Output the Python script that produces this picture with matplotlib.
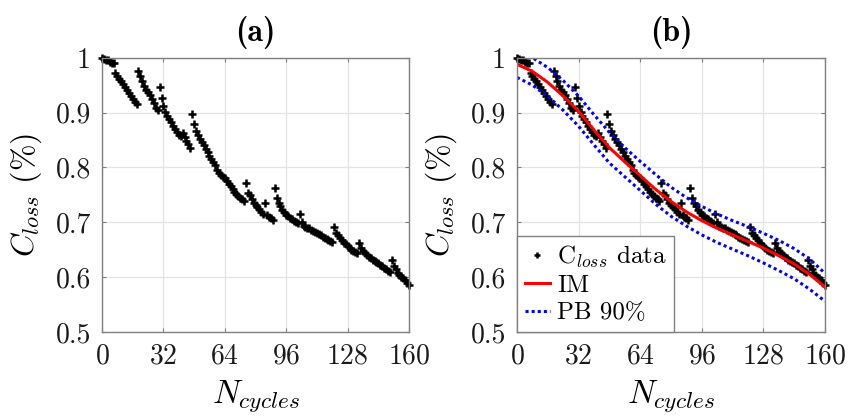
import matplotlib
matplotlib.use('Agg')
import matplotlib.pyplot as plt
import numpy as np

# Capacity loss data, one point per cycle (0..160)
cycles = list(range(161))
c_loss = [
    1.000, 0.998, 0.996, 0.995, 0.993, 0.991, 0.990, 0.972, 0.967, 0.962,
    0.957, 0.952, 0.946, 0.941, 0.936, 0.930, 0.925, 0.920, 0.916, 0.975,
    0.966, 0.957, 0.949, 0.942, 0.937, 0.932, 0.925, 0.917, 0.909, 0.905,
    0.947, 0.926, 0.912, 0.901, 0.894, 0.888, 0.883, 0.876, 0.870, 0.865,
    0.860, 0.857, 0.862, 0.855, 0.849, 0.842, 0.835, 0.897, 0.880, 0.866,
    0.859, 0.852, 0.846, 0.840, 0.834, 0.828, 0.821, 0.815, 0.810, 0.804,
    0.796, 0.790, 0.786, 0.783, 0.780, 0.776, 0.770, 0.766, 0.761, 0.756,
    0.752, 0.748, 0.745, 0.742, 0.738, 0.771, 0.754, 0.749, 0.742, 0.736,
    0.732, 0.728, 0.724, 0.719, 0.716, 0.735, 0.714, 0.710, 0.707, 0.705,
    0.762, 0.745, 0.735, 0.729, 0.723, 0.718, 0.714, 0.711, 0.708, 0.706,
    0.703, 0.700, 0.698, 0.715, 0.701, 0.694, 0.692, 0.690, 0.689, 0.686,
    0.684, 0.682, 0.680, 0.678, 0.676, 0.674, 0.671, 0.669, 0.667, 0.665,
    0.664, 0.691, 0.680, 0.676, 0.671, 0.667, 0.663, 0.660, 0.657, 0.653,
    0.650, 0.648, 0.646, 0.644, 0.663, 0.653, 0.648, 0.644, 0.641, 0.637,
    0.634, 0.632, 0.629, 0.627, 0.625, 0.622, 0.620, 0.617, 0.614, 0.611,
    0.609, 0.632, 0.620, 0.614, 0.608, 0.604, 0.601, 0.598, 0.594, 0.590,
    0.585,
]

# Model fit (IM) and 90% prediction bounds, every 8 cycles
fit_cycles = [0, 8, 16, 24, 32, 40, 48, 56, 64, 72, 80, 88, 96, 104, 112,
              120, 128, 136, 144, 152, 160]
im_fit = [0.988, 0.975, 0.955, 0.930, 0.902, 0.868, 0.836, 0.810, 0.785,
          0.760, 0.738, 0.719, 0.703, 0.689, 0.677, 0.665, 0.653, 0.639,
          0.624, 0.605, 0.582]
pb_upper = [1.012, 1.000, 0.982, 0.958, 0.930, 0.896, 0.864, 0.836, 0.811,
            0.787, 0.764, 0.745, 0.729, 0.715, 0.703, 0.692, 0.680, 0.667,
            0.652, 0.633, 0.607]
pb_lower = [0.964, 0.950, 0.930, 0.904, 0.875, 0.841, 0.808, 0.783, 0.758,
            0.733, 0.711, 0.693, 0.677, 0.663, 0.651, 0.639, 0.626, 0.612,
            0.597, 0.578, 0.556]

x_ticks = [0, 32, 64, 96, 128, 160]
y_ticks = [0.5, 0.6, 0.7, 0.8, 0.9, 1.0]

plt.rcParams['font.family'] = ['cmr10', 'DejaVu Serif']
plt.rcParams['mathtext.fontset'] = 'cm'
plt.rcParams['axes.formatter.use_mathtext'] = True
plt.rcParams['axes.unicode_minus'] = False


def style_axes(ax, title):
    ax.set_xlim(0, 160)
    ax.set_ylim(0.5, 1.0)
    ax.set_xticks(x_ticks)
    ax.set_yticks(y_ticks)
    ax.set_yticklabels(['%g' % v for v in y_ticks])
    ax.tick_params(direction='in', labelsize=20, length=3, width=0.8,
                   color='#7f7f7f', labelcolor='#1a1a1a', pad=8,
                   top=True, right=True)
    ax.grid(True, color='#e3e3e3', linewidth=0.9)
    ax.set_axisbelow(True)
    for s in ax.spines.values():
        s.set_color('#808080')
        s.set_linewidth(1.0)
    ax.set_xlabel(r'$N_{cycles}$', fontsize=24, labelpad=6)
    ax.set_ylabel(r'$C_{loss}$ (%)', fontsize=23, labelpad=8)
    ax.set_title(title, fontsize=23, pad=12,
                 fontfamily=['cmb10', 'DejaVu Serif'])


fig = plt.figure(figsize=(8.61, 4.19), dpi=100)
ax1 = fig.add_axes([0.1185, 0.2076, 0.3566, 0.6547])
ax2 = fig.add_axes([0.6005, 0.2076, 0.3577, 0.6547])

# (a) raw data
ax1.plot(cycles, c_loss, linestyle='none', marker='+', markersize=5.5,
         markeredgewidth=1.8, color='black', clip_on=False)
style_axes(ax1, '(a)')

# (b) data with model and bounds
ax2.plot(cycles, c_loss, linestyle='none', marker='+', markersize=5.5,
         markeredgewidth=1.8, color='black', label=r'C$_{loss}$ data',
         clip_on=False)
ax2.plot(fit_cycles, im_fit, color='red', linewidth=2.2, label='IM')
ax2.plot(fit_cycles, pb_upper, color='blue', linewidth=2.2,
         linestyle=(0, (1, 1)), label='PB 90%')
ax2.plot(fit_cycles, pb_lower, color='blue', linewidth=2.2,
         linestyle=(0, (1, 1)))
style_axes(ax2, '(b)')

leg = ax2.legend(loc='lower left', fontsize=18, borderaxespad=0,
                 handlelength=1.0, handletextpad=0.3, labelspacing=0.2,
                 borderpad=0.3, fancybox=False, framealpha=1,
                 markerscale=0.7)
leg.get_frame().set_edgecolor('#808080')
leg.get_frame().set_linewidth(1.0)

plt.savefig('out.png', dpi=100)
plt.close()
